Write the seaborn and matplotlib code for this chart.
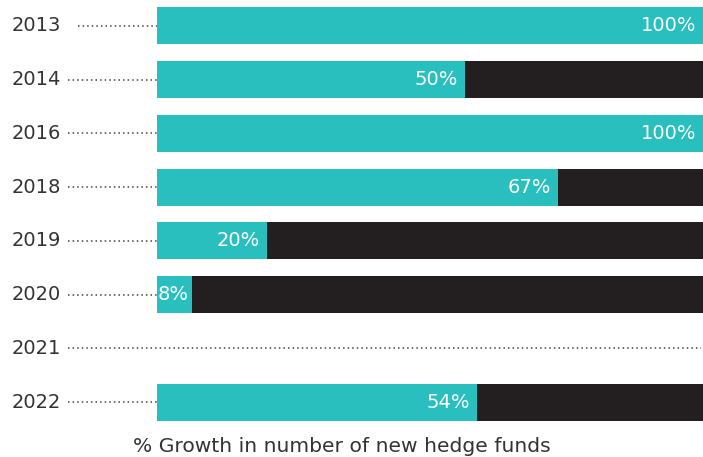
import numpy as np
import pandas as pd
import seaborn as sns
from matplotlib import pyplot as plt

# data
years = ["2013", "2014", "2016", "2018", "2019", "2020", "2021", "2022"]
growth_labels = ["100%", "50%", "100%", "67%", "20%", "8%", "", "54%"]
# bar lengths as drawn in the picture (share of the full bar, %)
bar_length = [100, 56.4, 100, 73.4, 20.1, 6.4, np.nan, 58.6]

TEAL = "#2abfbf"
DARK = "#231f20"
TEXT = "#333333"
FONT = dict(fontsize=14)

df = pd.DataFrame({"year": years, "growth": bar_length, "label": growth_labels})
df["full"] = np.where(df["growth"].notna(), 100, np.nan)

sns.set_theme(style="white")
plt.rcParams["font.family"] = ["DejaVu Sans"]

fig = plt.figure(figsize=(7.03, 4.57), dpi=100)
ax = fig.add_axes([157 / 703, 28 / 457, 546 / 703, 430 / 457])

sns.barplot(data=df, y="year", x="full", color=DARK, width=0.69,
            saturation=1, orient="h", linewidth=0, ax=ax)
sns.barplot(data=df, y="year", x="growth", color=TEAL, width=0.69,
            saturation=1, orient="h", linewidth=0, ax=ax)

ax.set_xlim(0, 100)
ax.set_ylim(len(years) - 0.5, -0.5)
ax.set_xlabel("")
ax.set_ylabel("")
ax.set_xticks([])
ax.set_yticks([])
sns.despine(ax=ax, left=True, bottom=True)

for i, row in df.iterrows():
    # year label and dotted leader line
    ax.text(-0.176, i, row["year"], transform=ax.get_yaxis_transform(),
            ha="right", va="center", color=TEXT, **FONT)
    start = -0.145 if row["year"] == "2013" else -0.163
    end = 0.996 if np.isnan(row["growth"]) else 0
    ax.plot([start, end], [i, i], transform=ax.get_yaxis_transform(),
            color="#444444", lw=1.1, ls=(0, (1, 2)), clip_on=False)
    if np.isnan(row["growth"]):
        continue
    if row["growth"] < 10:
        ax.annotate(row["label"], (0, i), xytext=(0.5, 0), textcoords="offset points",
                    ha="left", va="center", color="white", **FONT)
    else:
        ax.annotate(row["label"], (row["growth"], i), xytext=(-5, 0),
                    textcoords="offset points", ha="right", va="center",
                    color="white", **FONT)

fig.text(342 / 703, 11 / 457, "% Growth in number of new hedge funds",
         ha="center", va="center", color=TEXT, fontsize=14.6)

fig.savefig("out.png", dpi=100)
